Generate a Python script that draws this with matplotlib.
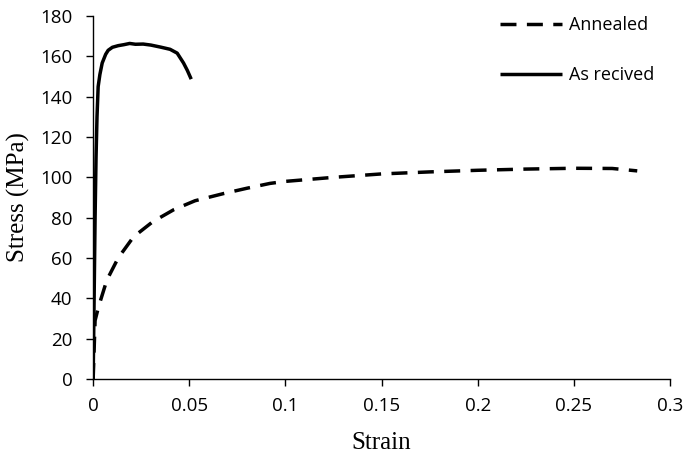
import matplotlib.pyplot as plt

# Curva do material recozido (tracejada)
strain_annealed = [0.0, 0.001, 0.0028, 0.0071, 0.013, 0.021, 0.031, 0.042, 0.053, 0.068,
                   0.080, 0.092, 0.10, 0.125, 0.15, 0.175, 0.20, 0.225, 0.25, 0.27, 0.283]
stress_annealed = [0, 29, 35.8, 49, 60, 70.5, 78, 84, 88.4, 92,
                   94.6, 97, 98, 100, 101.7, 102.7, 103.5, 104.1, 104.5, 104.4, 103.2]

# Curva do material como recebido (contínua)
strain_received = [0.0, 0.0005, 0.001, 0.0015, 0.002, 0.0026, 0.0035, 0.0047, 0.0065, 0.0078,
                   0.010, 0.013, 0.016, 0.019, 0.022, 0.026, 0.030, 0.035, 0.040, 0.0437,
                   0.047, 0.049, 0.051]
stress_received = [0, 40, 80, 110, 130, 145, 151, 156.7, 161, 163,
                   164.5, 165.3, 165.8, 166.4, 166.0, 166.1, 165.6, 164.6, 163.5, 161.6,
                   156.7, 153, 148.7]

fig = plt.figure(figsize=(6.85, 4.58), dpi=100)
ax = fig.add_axes([0.136, 0.1725, 0.842, 0.7925])

ax.plot(strain_annealed, stress_annealed, color='black', linewidth=2.5,
        linestyle=(0, (4.6, 3.0)), label='Annealed')
ax.plot(strain_received, stress_received, color='black', linewidth=2.5,
        solid_capstyle='butt', label='As recived')

ax.set_xlim(0, 0.3)
ax.set_ylim(0, 180)
ax.set_xticks([0, 0.05, 0.1, 0.15, 0.2, 0.25, 0.3])
ax.set_xticklabels(['0', '0.05', '0.1', '0.15', '0.2', '0.25', '0.3'])
ax.set_yticks(range(0, 181, 20))

for lbl in ax.get_xticklabels() + ax.get_yticklabels():
    lbl.set_family('Open Sans')
    lbl.set_fontsize(13.5)

ax.spines['top'].set_visible(False)
ax.spines['right'].set_visible(False)
ax.spines['left'].set_linewidth(1.0)
ax.spines['bottom'].set_linewidth(1.0)
ax.tick_params(direction='out', length=5, width=1.0)
ax.tick_params(axis='x', pad=8)
ax.tick_params(axis='y', pad=10)

ax.set_xlabel('Strain', family='Liberation Serif', fontsize=18, labelpad=12)
ax.set_ylabel('Stress (MPa)', family='Liberation Serif', fontsize=18, labelpad=7)

ax.legend(loc='upper left', bbox_to_anchor=(0.678, 1.045), frameon=False,
          prop={'family': 'Open Sans', 'size': 13}, handlelength=3.43,
          labelspacing=1.78, handletextpad=0.39)

fig.savefig('out.png', dpi=100)
